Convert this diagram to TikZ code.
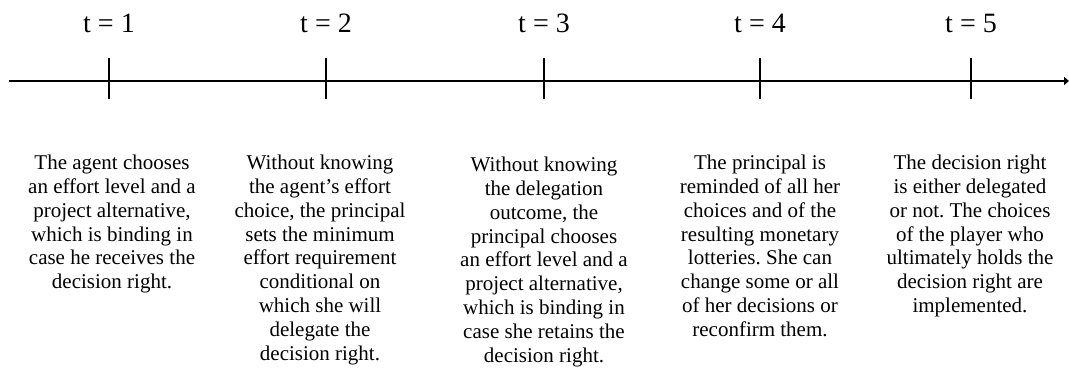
\documentclass[tikz,border=0pt]{standalone}
\usepackage{fontspec}
\setmainfont{Liberation Serif}
\usetikzlibrary{arrows.meta}
\frenchspacing
\begin{document}
\begin{tikzpicture}[x=1pt, y=1pt,
    axis/.style={line width=1.5pt},
    period/.style={inner sep=0pt, font=\fontsize{28}{32}\selectfont},
    stage/.style={inner sep=0pt, anchor=north, align=center, font=\fontsize{21}{23.8}\selectfont}]
    \useasboundingbox (0,0) rectangle (1069,381);

    % time axis
    \coordinate (start) at (9,300);
    \coordinate (end) at (1069,300);
    \draw[axis, -{Triangle[length=5pt,width=8pt]}] (start) -- (end);

    \foreach \n/\x in {1/109,2/326,3/544,4/760,5/971}{
        \coordinate (tick\n) at (\x,300);
        \draw[axis] ([yshift=23pt]tick\n) -- ([yshift=-18pt]tick\n);
        \node[period] (time\n) at (\x,358) {t = \n};
    }

    % what happens at each date
    \node[stage] (stage1) at (112,226) {The agent chooses\\an effort level and a\\project alternative,\\which is binding in\\case he receives the\\decision right.};
    \node[stage] (stage2) at (320,226) {Without knowing\\the agent’s effort\\choice, the principal\\sets the minimum\\effort requirement\\conditional on\\which she will\\delegate the\\decision right.};
    \node[stage] (stage3) at (544,224) {Without knowing\\the delegation\\outcome, the\\principal chooses\\an effort level and a\\project alternative,\\which is binding in\\case she retains the\\decision right.};
    \node[stage] (stage4) at (760,226) {The principal is\\reminded of all her\\choices and of the\\resulting monetary\\lotteries. She can\\change some or all\\of her decisions or\\reconfirm them.};
    \node[stage] (stage5) at (970,226) {The decision right\\is either delegated\\or not. The choices\\of the player who\\ultimately holds the\\decision right are\\implemented.};
\end{tikzpicture}
\end{document}
